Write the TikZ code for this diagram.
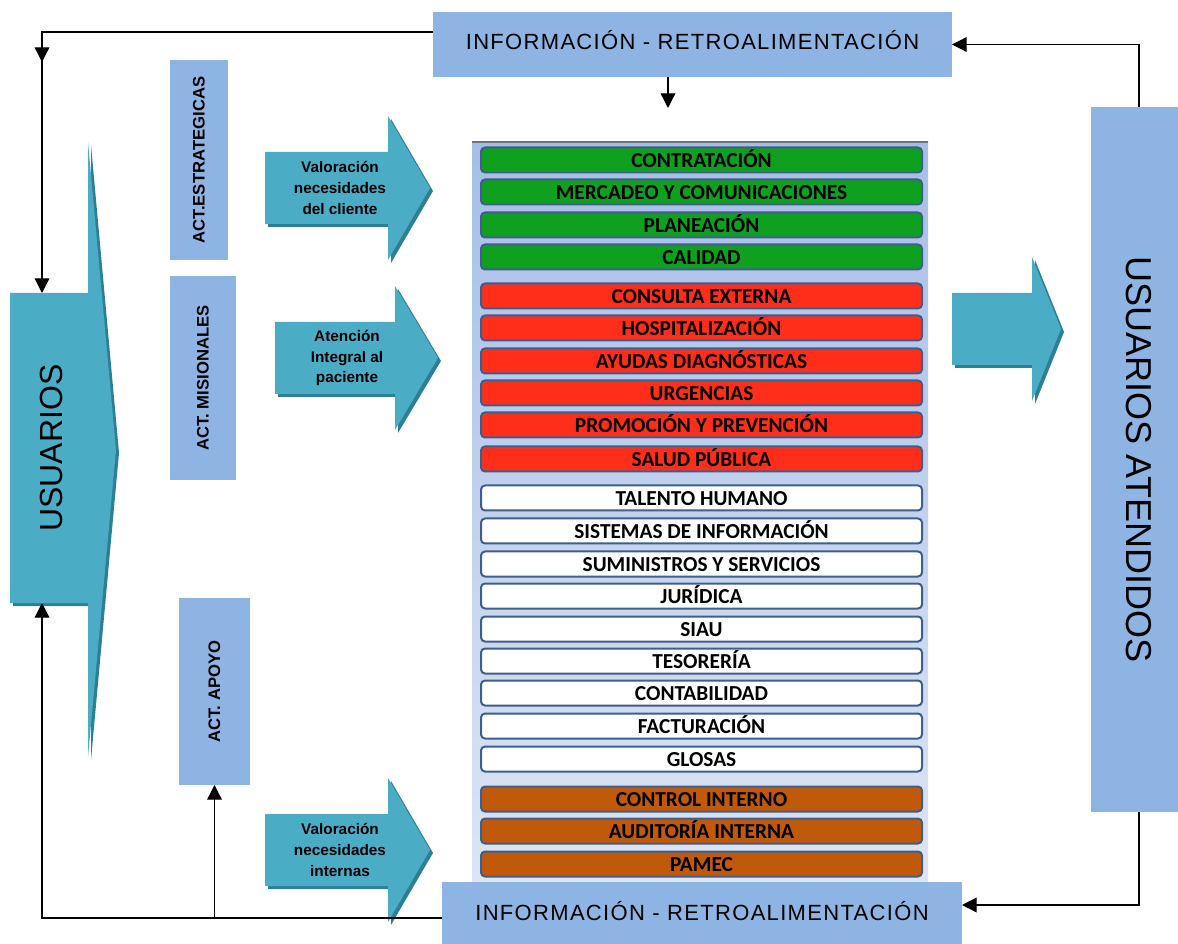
\documentclass[tikz,border=0pt]{standalone}
\usepackage{graphicx}
\usepackage{fontspec}
\setmainfont{Liberation Sans}
\newfontfamily\barfont{Carlito}
\newfontfamily\infofont{Liberation Sans}[LetterSpace=6]
\usetikzlibrary{arrows.meta,calc}
\definecolor{procTeal}{HTML}{4BACC6}
\definecolor{procTealDark}{HTML}{2E7F94}
\definecolor{procLabel}{HTML}{8EB4E3}
\definecolor{procPanelTop}{HTML}{A6BEE7}
\definecolor{procPanelBot}{HTML}{DDE5F4}
\definecolor{procGreen}{HTML}{0EA01E}
\definecolor{procRed}{HTML}{FF2E1A}
\definecolor{procOrange}{HTML}{C0590A}
\definecolor{procEdge}{HTML}{3F5E8C}
\definecolor{procGray}{HTML}{6B7280}
\tikzset{
  proc map/.style={
    x=0.75pt, y=-0.75pt, line width=1pt,
    >={Triangle[length=11pt,width=11pt]},
    every node/.style={inner sep=0pt, outer sep=0pt, text=black}
  },
  px size/.style 2 args={minimum width=#1*0.75pt, minimum height=#2*0.75pt},
  info box/.style={fill=procLabel, font=\infofont\fontsize{16.5}{19}\selectfont},
  act box/.style={fill=procLabel, font=\bfseries\fontsize{12.5}{14}\selectfont},
  user box/.style={fill=procLabel, font=\fontsize{27}{30}\selectfont},
  panel box/.style={top color=procPanelTop, bottom color=procPanelBot},
  proc bar/.style={draw=procEdge, line width=1.5pt, rounded corners=3pt,
    px size={441}{25}, text height=11pt, text depth=0pt,
    font=\barfont\bfseries\fontsize{16}{18}\selectfont},
  arrow text/.style={align=center, font=\bfseries\fontsize{11.5}{15.5}\selectfont},
  flow/.style={draw=black, ->}
}
\newcommand{\ProcArrow}[6]{%
  \foreach \dd/\cc in {3/procTealDark,0/procTeal}
    \fill[\cc, shift={(\dd,\dd)}] (#2,{#3-36}) -- (#4,{#3-36}) -- (#4,{#3-72})
      -- (#5,#3) -- (#4,{#3+72}) -- (#4,{#3+36}) -- (#2,{#3+36}) -- cycle;
  \node[arrow text] (#1) at ({#4-48},#3) {#6};
}

\begin{document}
\begin{tikzpicture}[proc map]
    \useasboundingbox (0,0) rectangle (1178,944);
    \node[panel box, px size={456}{740}] (panel) at (700,512) {};
    \draw[procGray] (panel.north west) -- (panel.north east);
    \foreach \yy/\col/\txt [count=\i] in {
        160/procGreen/CONTRATACIÓN, 192/procGreen/MERCADEO Y COMUNICACIONES,
        225/procGreen/PLANEACIÓN, 257/procGreen/CALIDAD,
        296/procRed/CONSULTA EXTERNA, 328/procRed/HOSPITALIZACIÓN,
        361/procRed/AYUDAS DIAGNÓSTICAS, 393/procRed/URGENCIAS,
        425/procRed/PROMOCIÓN Y PREVENCIÓN, 459/procRed/SALUD PÚBLICA,
        498/white/TALENTO HUMANO, 531/white/SISTEMAS DE INFORMACIÓN,
        564/white/SUMINISTROS Y SERVICIOS, 596/white/JURÍDICA,
        629/white/SIAU, 661/white/TESORERÍA, 693/white/CONTABILIDAD,
        726/white/FACTURACIÓN, 759/white/GLOSAS,
        799/procOrange/CONTROL INTERNO, 831/procOrange/AUDITORÍA INTERNA,
        864/procOrange/PAMEC}
      \node[proc bar, fill=\col] (bar\i) at (701.5,\yy) {\txt};

    \foreach \dd/\cc in {3/procTealDark,0/procTeal}
      \fill[\cc, shift={(\dd,\dd)}] (10,293) -- (88,293) -- (88,142) -- (116,450)
        -- (88,757) -- (88,603) -- (10,603) -- cycle;
    \node[px size={82}{310}, font=\fontsize{24}{28}\selectfont] (usu) at (51,448)
      {\rotatebox{90}{USUARIOS}};

    \ProcArrow{valCli}{265}{188}{388}{430}{Valoración\\necesidades\\del cliente}
    \ProcArrow{atInt}{275}{358}{395}{438}{Atención\\Integral al\\paciente}
    \ProcArrow{valInt}{265}{850}{388}{430}{Valoración\\necesidades\\internas}
    \ProcArrow{salida}{952}{329}{1032}{1061}{}

    \node[act box, px size={58}{200}] (estr) at (199,160) {\rotatebox{90}{ACT.ESTRATEGICAS}};
    \node[act box, px size={66}{204}] (misi) at (203,378) {\rotatebox{90}{ACT. MISIONALES}};
    \node[act box, px size={71}{187}] (apoyo) at (214.5,691.5) {\rotatebox{90}{ACT. APOYO}};
    \node[user box, px size={96}{705}] (usuat) at (1139,459.5) {\rotatebox{-90}{USUARIOS ATENDIDOS}};

    \node[info box, px size={519}{65}, text depth=7.5pt] (info1) at (692.5,44.5)
      {INFORMACIÓN - RETROALIMENTACIÓN};
    \node[info box, px size={520}{62}, text depth=3pt] (info2) at (702,913)
      {INFORMACIÓN - RETROALIMENTACIÓN};

    \coordinate (fbTL) at (42,32);
    \coordinate (fbMid) at (42,62);
    \coordinate (fbBL) at (42,918);
    \coordinate (fbIn) at (668,108);
    \draw[flow] (info1.west |- fbTL) -- (fbTL) -- (fbTL |- usu.north);
    \draw[flow] (fbTL) -- (fbMid);
    \draw[flow] (info1.south -| fbIn) -- (fbIn);
    \draw[flow] (usuat.north) |- (info1.east);
    \draw[flow] (usuat.south) |- ($(info2.east)+(0,-8)$);
    \draw[flow] (info2.west |- fbBL) -- (fbBL) -- (fbBL |- usu.south);
    \draw[flow] (apoyo.south |- fbBL) -- (apoyo.south);
  \end{tikzpicture}
\end{document}
